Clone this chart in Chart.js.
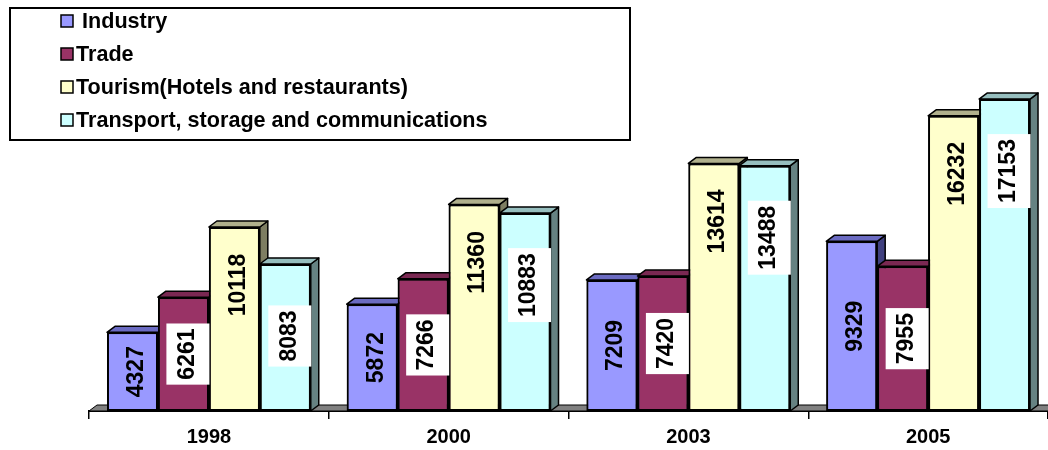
<!DOCTYPE html>
<html>
<head>
<meta charset="utf-8">
<script src="https://cdn.jsdelivr.net/npm/chart.js@4.4.1/dist/chart.umd.min.js"></script>
<style>
  html, body { margin: 0; padding: 0; background: #fff; }
</style>
</head>
<body>
<canvas id="growthChart" width="1048" height="450"></canvas>
<script>
// data
const years = ['1998', '2000', '2003', '2005'];
const seriesNames = [' Industry', 'Trade', 'Tourism(Hotels and restaurants)', 'Transport, storage and communications'];
const industry = [4327, 5872, 7209, 9329];
const trade = [6261, 7266, 7420, 7955];
const tourism = [10118, 11360, 13614, 16232];
const transport = [8083, 10883, 13488, 17153];

// styles
const FONT = "'Liberation Sans', Arial, sans-serif";
const frontColors = ['#9999FF', '#993366', '#FFFFCC', '#CCFFFF'];
const topColors = ['#6B6BC2', '#7A2852', '#B0B08C', '#96BEBE'];
const sideColors = ['#40407F', '#4E1A34', '#7E7E62', '#668282'];
const labelBoxes = [null, '#FFFFFF', null, '#FFFFFF'];
const labelTopGap = [Infinity, Infinity, 58, 72]; // tall bars keep their label near the top
const DX = 8, DY = 6;

// floor strip under the bars
const floorPlugin = {
    id: 'floor',
    beforeDatasetsDraw(chart) {
        const ctx = chart.ctx;
        const area = chart.chartArea;
        const y0 = chart.scales.y.getPixelForValue(0);
        ctx.save();
        ctx.beginPath();
        ctx.moveTo(area.left, y0);
        ctx.lineTo(area.left + DX, y0 - DY);
        ctx.lineTo(area.right + DX, y0 - DY);
        ctx.lineTo(area.right, y0);
        ctx.closePath();
        ctx.fillStyle = '#808080';
        ctx.fill();
        ctx.strokeStyle = '#000';
        ctx.lineWidth = 1;
        ctx.stroke();
        ctx.restore();
    }
};

// fake 3D: side and top faces, redrawn left to right per category
const depthPlugin = {
    id: 'depth',
    afterDatasetsDraw(chart) {
        const ctx = chart.ctx;
        const metas = chart.data.datasets.map((d, i) => chart.getDatasetMeta(i));
        ctx.save();
        for (let j = 0; j < years.length; j++) {
            metas.forEach((meta, k) => {
                const bar = meta.data[j];
                const p = bar.getProps(['x', 'y', 'base', 'width'], true);
                const l = p.x - p.width / 2, r = p.x + p.width / 2;
                ctx.lineWidth = 1.5;
                ctx.strokeStyle = '#000';
                ctx.lineJoin = 'round';
                // side
                ctx.beginPath();
                ctx.moveTo(r, p.base);
                ctx.lineTo(r + DX, p.base - DY);
                ctx.lineTo(r + DX, p.y - DY);
                ctx.lineTo(r, p.y);
                ctx.closePath();
                ctx.fillStyle = sideColors[k];
                ctx.fill();
                ctx.stroke();
                // top
                ctx.beginPath();
                ctx.moveTo(l, p.y);
                ctx.lineTo(l + DX, p.y - DY);
                ctx.lineTo(r + DX, p.y - DY);
                ctx.lineTo(r, p.y);
                ctx.closePath();
                ctx.fillStyle = topColors[k];
                ctx.fill();
                ctx.stroke();
                bar.draw(ctx);
            });
        }
        ctx.restore();
    }
};

// rotated value labels
const labelPlugin = {
    id: 'valueLabels',
    afterDatasetsDraw(chart) {
        const ctx = chart.ctx;
        ctx.save();
        ctx.font = 'bold 23px ' + FONT;
        chart.data.datasets.forEach((ds, k) => {
            const meta = chart.getDatasetMeta(k);
            meta.data.forEach((bar, j) => {
                const p = bar.getProps(['x', 'y', 'base'], true);
                const text = String(ds.data[j]);
                const cy = Math.min((p.y + p.base) / 2, p.y + labelTopGap[k]);
                const cx = p.x + 3;
                const tw = ctx.measureText(text).width;
                if (labelBoxes[k]) {
                    ctx.fillStyle = labelBoxes[k];
                    ctx.fillRect(cx - 20, cy - tw / 2 - 5, 43, tw + 10);
                }
                ctx.translate(cx, cy);
                ctx.rotate(-Math.PI / 2);
                ctx.fillStyle = '#000';
                ctx.textAlign = 'center';
                ctx.textBaseline = 'middle';
                ctx.fillText(text, 0, 1);
                ctx.setTransform(1, 0, 0, 1, 0, 0);
            });
        });
        ctx.restore();
    }
};

// boxed legend at the top left
const legendBoxPlugin = {
    id: 'legendBox',
    afterDraw(chart) {
        const ctx = chart.ctx;
        ctx.save();
        ctx.fillStyle = '#fff';
        ctx.fillRect(10, 8, 620, 132);
        ctx.strokeStyle = '#000';
        ctx.lineWidth = 2;
        ctx.strokeRect(10, 8, 620, 132);
        ctx.font = 'bold 21.6px ' + FONT;
        ctx.textBaseline = 'middle';
        ctx.textAlign = 'left';
        chart.data.datasets.forEach((ds, k) => {
            const y = 21 + k * 33;
            ctx.fillStyle = frontColors[k];
            ctx.fillRect(61, y - 6, 12, 12);
            ctx.lineWidth = 1.5;
            ctx.strokeRect(61, y - 6, 12, 12);
            ctx.fillStyle = '#000';
            ctx.fillText(ds.label, 76, y + 1);
        });
        ctx.restore();
    }
};

const series = [industry, trade, tourism, transport];
const ctx = document.getElementById('growthChart').getContext('2d');
const growthChart = new Chart(ctx, {
    type: 'bar',
    data: {
        labels: years,
        datasets: series.map((vals, k) => ({
            label: seriesNames[k],
            data: vals,
            backgroundColor: frontColors[k],
            borderColor: '#000',
            borderWidth: 2,
            borderSkipped: false,
            categoryPercentage: 0.85,
            barPercentage: 1
        }))
    },
    options: {
        responsive: false,
        animation: false,
        devicePixelRatio: 1,
        layout: {
            padding: { left: 89, right: 0, top: 0, bottom: -5 }
        },
        scales: {
            y: {
                display: false,
                min: 0,
                max: 22600
            },
            x: {
                grid: {
                    offset: true,
                    drawOnChartArea: false,
                    tickLength: 8,
                    color: '#000',
                    lineWidth: 1.5
                },
                border: { color: '#000', width: 2 },
                ticks: {
                    color: '#000',
                    padding: 6,
                    font: { family: FONT, size: 20, weight: 'bold' }
                }
            }
        },
        plugins: {
            legend: { display: false },
            tooltip: { enabled: false }
        }
    },
    plugins: [floorPlugin, depthPlugin, labelPlugin, legendBoxPlugin]
});
</script>
</body>
</html>
